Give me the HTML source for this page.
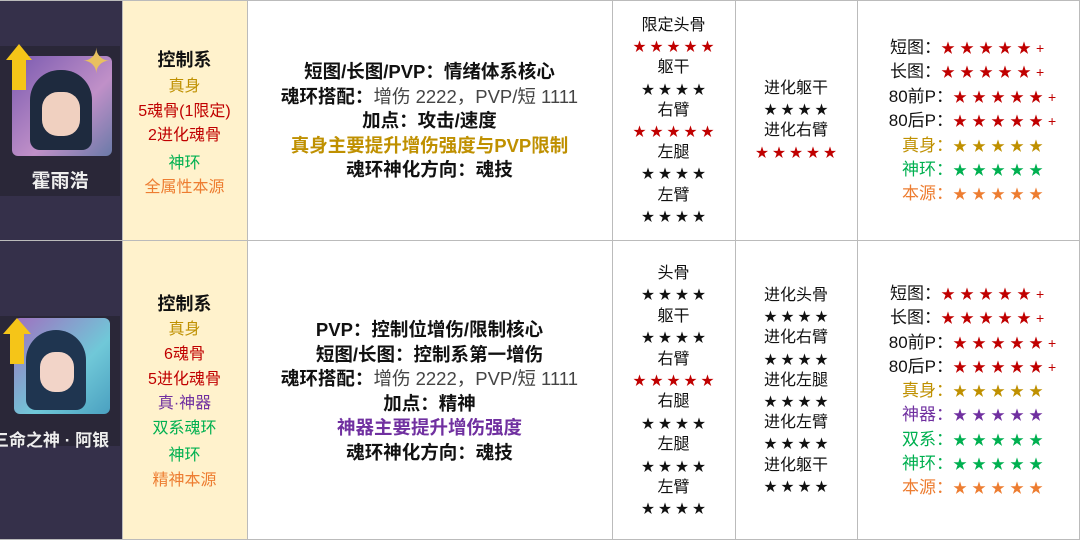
<!DOCTYPE html>
<html><head><meta charset="utf-8"><style>
*{margin:0;padding:0;box-sizing:border-box}
body{width:1080px;height:540px;background:#fff;position:relative;overflow:hidden;font-family:"Liberation Sans","Noto Sans CJK SC",sans-serif;color:#111}
.c{position:absolute;text-align:center;white-space:nowrap}
.b{font-weight:bold}
.r{color:#c00000}.g{color:#bf9000}.gr{color:#00b050}.o{color:#ed7d31}.p{color:#7030a0}
.n{font-weight:normal;color:#444}
.vl{position:absolute;top:0;width:1px;height:540px;background:#bbb}
.hl{position:absolute;left:0;width:1080px;height:1px;background:#bbb}
.s{font-size:13px;letter-spacing:4px;padding-left:4px}
.t{font-size:14px;letter-spacing:5px;display:inline-block;width:110px;text-align:left}
.lb{display:inline-block;width:74px;text-align:right}
.row{text-align:left;padding-left:10px}
</style></head><body>
<div style="position:absolute;left:0;top:0;width:122px;height:540px;background:#35304a"></div>
<div style="position:absolute;left:122px;top:0;width:125px;height:540px;background:#fff2cc"></div>
<div class="vl" style="left:122px"></div><div class="vl" style="left:247px"></div><div class="vl" style="left:612px"></div><div class="vl" style="left:735px"></div><div class="vl" style="left:857px"></div><div class="vl" style="left:1079px"></div>
<div class="hl" style="top:0"></div><div class="hl" style="top:240px"></div><div class="hl" style="top:539px"></div>

<!-- avatar 1 -->
<div style="position:absolute;left:0;top:46px;width:120px;height:150px;background:#2a2738"></div>
<div style="position:absolute;left:12px;top:56px;width:100px;height:100px;border-radius:6px;background:linear-gradient(135deg,#7a5ab0,#c090c8 60%,#6a7aa8)"></div>
<div style="position:absolute;left:30px;top:70px;width:62px;height:80px;border-radius:30px 30px 10px 10px;background:#1e2a3e"></div>
<div style="position:absolute;left:42px;top:92px;width:38px;height:44px;border-radius:16px;background:#f0d0c0"></div>
<div style="position:absolute;left:6px;top:44px;width:0;height:0;border-left:13px solid transparent;border-right:13px solid transparent;border-bottom:16px solid #f5c518"></div>
<div style="position:absolute;left:12px;top:60px;width:14px;height:30px;background:#f5c518"></div>
<div style="position:absolute;left:82px;top:42px;color:#e8c060;font-size:34px">✦</div>
<div class="c b" style="left:0;width:120px;top:166px;font-size:19px;color:#eee">霍雨浩</div>

<!-- avatar 2 -->
<div style="position:absolute;left:0;top:316px;width:120px;height:130px;background:#2a2738"></div>
<div style="position:absolute;left:14px;top:318px;width:96px;height:96px;border-radius:6px;background:linear-gradient(135deg,#a070c0,#70c8d8 60%,#4aa0c0)"></div>
<div style="position:absolute;left:26px;top:330px;width:60px;height:80px;border-radius:30px 30px 10px 10px;background:#1f3550"></div>
<div style="position:absolute;left:40px;top:352px;width:34px;height:40px;border-radius:15px;background:#f2d4c8"></div>
<div style="position:absolute;left:3px;top:318px;width:0;height:0;border-left:14px solid transparent;border-right:14px solid transparent;border-bottom:16px solid #f5c518"></div>
<div style="position:absolute;left:10px;top:334px;width:14px;height:30px;background:#f5c518"></div>
<div class="c b" style="left:-8px;width:130px;top:426px;font-size:17px;color:#eee;overflow:hidden;text-align:left">三命之神 · 阿银</div>

<!-- col2 -->
<div class="c b" style="left:122px;width:125px;top:46px;font-size:18px">控制系</div>
<div class="c" style="left:122px;width:125px;top:75px;font-size:16px;line-height:24.5px">
<div class="g">真身</div><div class="r">5魂骨(1限定)</div><div class="r">2进化魂骨</div><div class="gr" style="margin-top:3px">神环</div><div class="o">全属性本源</div></div>
<div class="c b" style="left:122px;width:125px;top:290px;font-size:18px">控制系</div>
<div class="c" style="left:122px;width:125px;top:318px;font-size:16px;line-height:24.8px">
<div class="g">真身</div><div class="r">6魂骨</div><div class="r">5进化魂骨</div><div class="p">真·神器</div><div class="gr">双系魂环</div><div class="gr" style="margin-top:2px">神环</div><div class="o">精神本源</div></div>

<!-- col3 -->
<div class="c b" style="left:247px;width:365px;top:60px;font-size:18.5px;line-height:24.5px">
<div>短图/长图/PVP：情绪体系核心</div><div>魂环搭配：<span class="n">增伤 2222，PVP/短 1111</span></div><div>加点：攻击/速度</div><div class="g">真身主要提升增伤强度与PVP限制</div><div>魂环神化方向：魂技</div></div>
<div class="c b" style="left:247px;width:365px;top:318px;font-size:18.5px;line-height:24.5px">
<div>PVP：控制位增伤/限制核心</div><div>短图/长图：控制系第一增伤</div><div>魂环搭配：<span class="n">增伤 2222，PVP/短 1111</span></div><div>加点：精神</div><div class="p">神器主要提升增伤强度</div><div>魂环神化方向：魂技</div></div>

<!-- col4 -->
<div class="c" style="left:612px;width:123px;top:15px;font-size:16px;line-height:21.2px">
<div>限定头骨</div><div class="r s">★★★★★</div><div>躯干</div><div class="s">★★★★</div><div>右臂</div><div class="r s">★★★★★</div><div>左腿</div><div class="s">★★★★</div><div>左臂</div><div class="s">★★★★</div></div>
<div class="c" style="left:612px;width:123px;top:263px;font-size:16px;line-height:21.4px">
<div>头骨</div><div class="s">★★★★</div><div>躯干</div><div class="s">★★★★</div><div>右臂</div><div class="r s">★★★★★</div><div>右腿</div><div class="s">★★★★</div><div>左腿</div><div class="s">★★★★</div><div>左臂</div><div class="s">★★★★</div></div>

<!-- col5 -->
<div class="c" style="left:735px;width:122px;top:78px;font-size:16px;line-height:21.2px">
<div>进化躯干</div><div class="s">★★★★</div><div>进化右臂</div><div class="r s">★★★★★</div></div>
<div class="c" style="left:735px;width:122px;top:285px;font-size:16px;line-height:21.2px">
<div>进化头骨</div><div class="s">★★★★</div><div>进化右臂</div><div class="s">★★★★</div><div>进化左腿</div><div class="s">★★★★</div><div>进化左臂</div><div class="s">★★★★</div><div>进化躯干</div><div class="s">★★★★</div></div>

<!-- col6 -->
<div class="c" style="left:857px;width:222px;top:36px;font-size:17px;line-height:24.4px">
<div class="row"><span class="lb">短图：</span><span class="r t">★★★★★+</span></div>
<div class="row"><span class="lb">长图：</span><span class="r t">★★★★★+</span></div>
<div class="row"><span class="lb" style="width:86px">80前P：</span><span class="r t">★★★★★+</span></div>
<div class="row"><span class="lb" style="width:86px">80后P：</span><span class="r t">★★★★★+</span></div>
<div class="row g"><span class="lb" style="width:86px">真身：</span><span class="t">★★★★★</span></div>
<div class="row gr"><span class="lb" style="width:86px">神环：</span><span class="t">★★★★★</span></div>
<div class="row o"><span class="lb" style="width:86px">本源：</span><span class="t">★★★★★</span></div></div>
<div class="c" style="left:857px;width:222px;top:282px;font-size:17px;line-height:24.3px">
<div class="row"><span class="lb">短图：</span><span class="r t">★★★★★+</span></div>
<div class="row"><span class="lb">长图：</span><span class="r t">★★★★★+</span></div>
<div class="row"><span class="lb" style="width:86px">80前P：</span><span class="r t">★★★★★+</span></div>
<div class="row"><span class="lb" style="width:86px">80后P：</span><span class="r t">★★★★★+</span></div>
<div class="row g"><span class="lb" style="width:86px">真身：</span><span class="t">★★★★★</span></div>
<div class="row p"><span class="lb" style="width:86px">神器：</span><span class="t">★★★★★</span></div>
<div class="row gr"><span class="lb" style="width:86px">双系：</span><span class="t">★★★★★</span></div>
<div class="row gr"><span class="lb" style="width:86px">神环：</span><span class="t">★★★★★</span></div>
<div class="row o"><span class="lb" style="width:86px">本源：</span><span class="t">★★★★★</span></div></div>
</body></html>
